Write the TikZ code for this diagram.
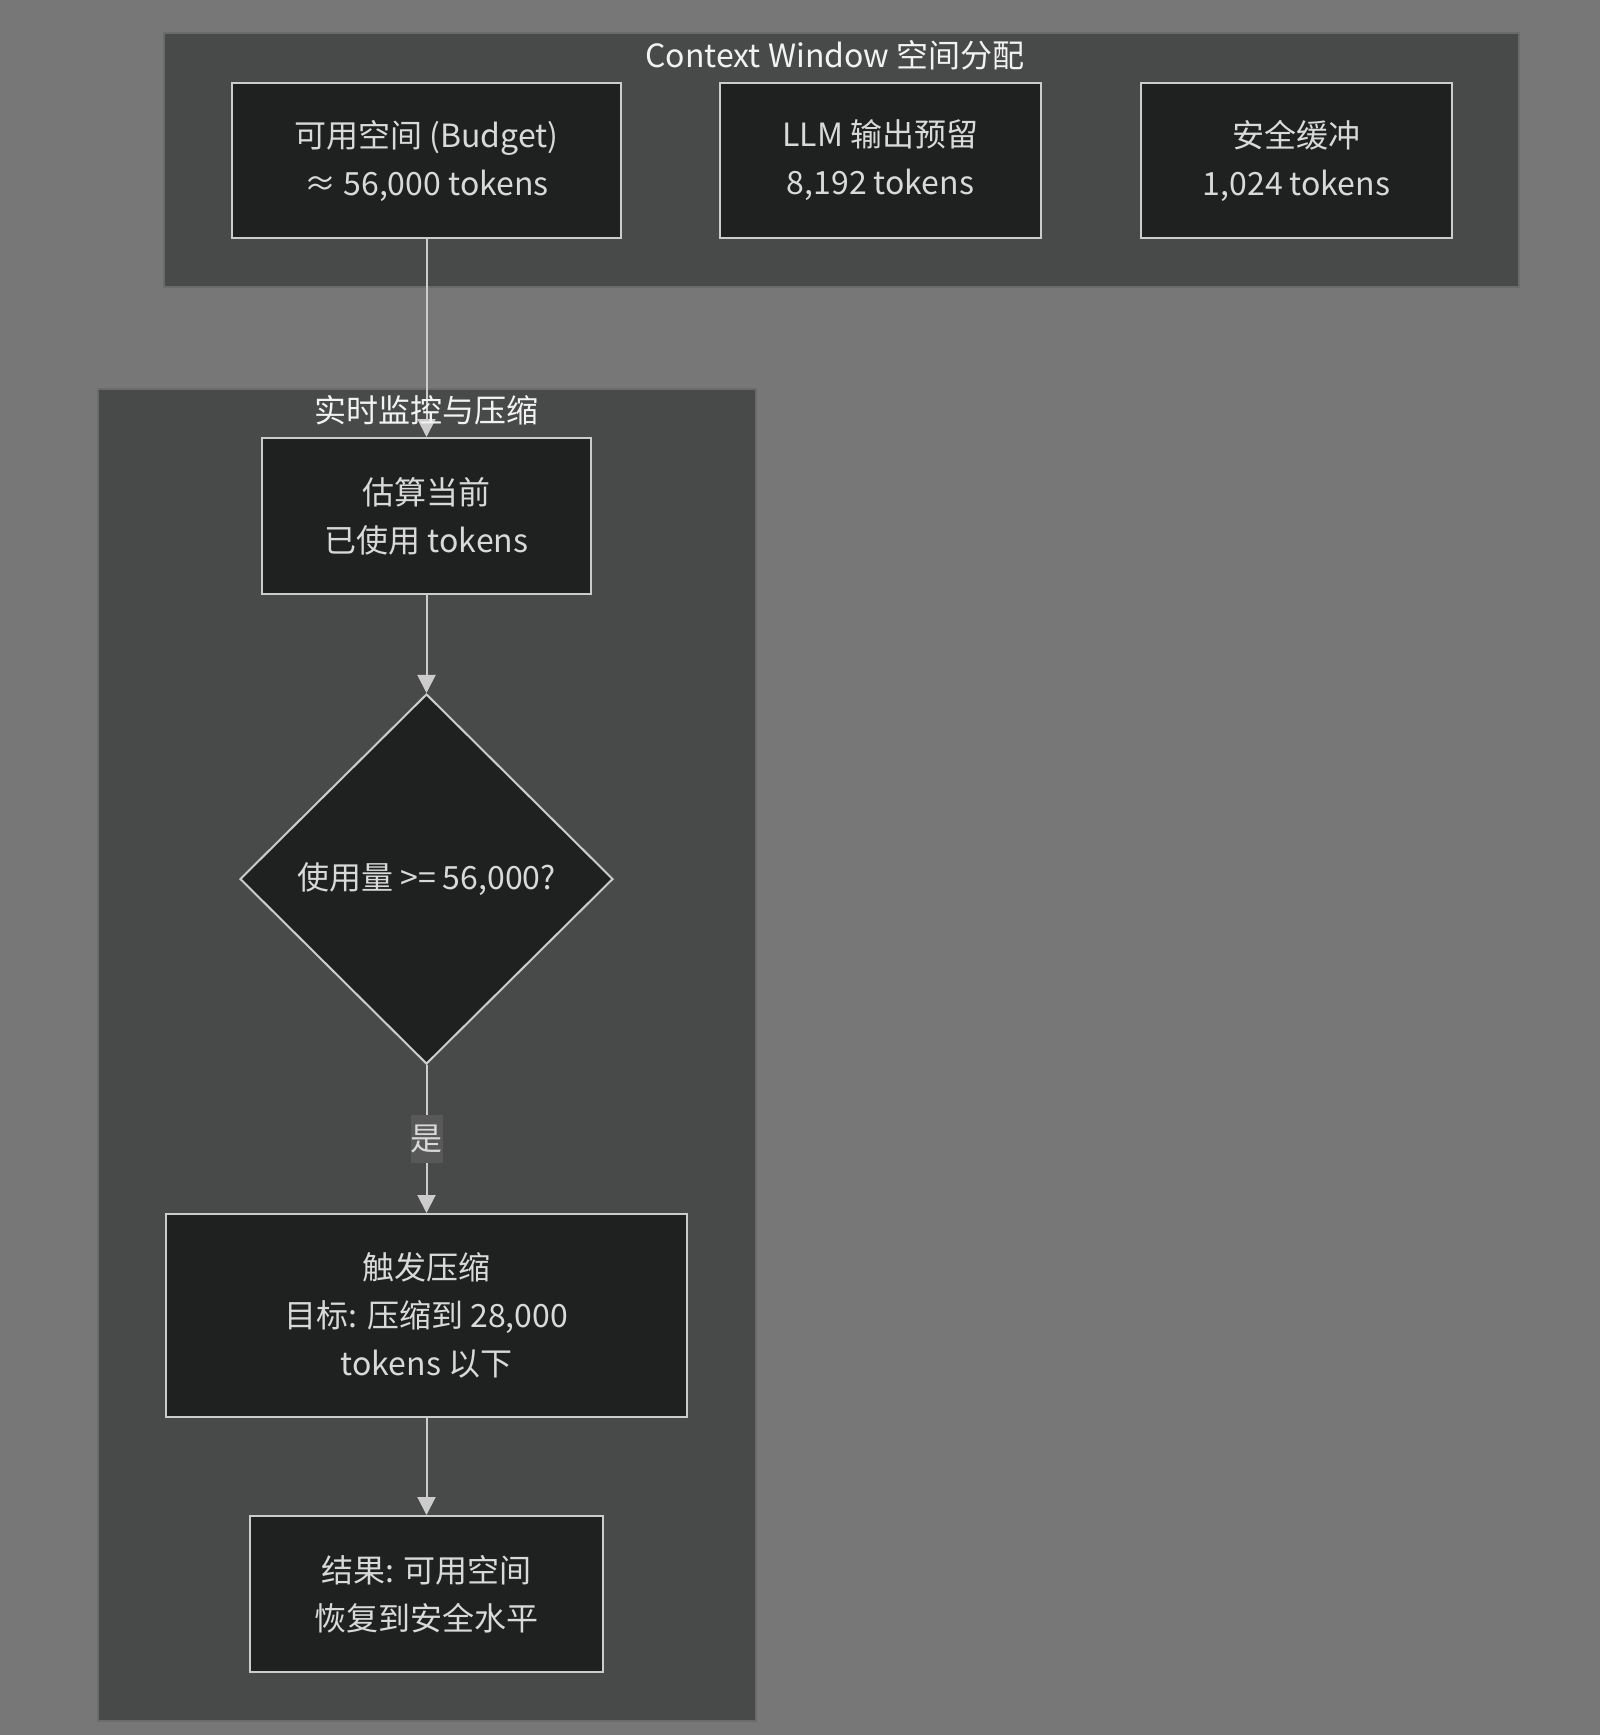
\documentclass[tikz,border=0pt]{standalone}
\usepackage{fontspec}
\setmainfont{Noto Sans CJK SC}
\usetikzlibrary{shapes.geometric,arrows.meta}

\definecolor{canvas}{HTML}{777777}
\definecolor{groupfill}{HTML}{484949}
\definecolor{groupline}{HTML}{6B6B6B}
\definecolor{nodefill}{HTML}{1F2020}
\definecolor{nodeline}{HTML}{CCCCCC}
\definecolor{nodetext}{HTML}{D9D9D9}
\definecolor{labelfill}{HTML}{585858}

\begin{document}
\begin{tikzpicture}[x=0.5pt,y=-0.5pt,
  every node/.style={font=\fontsize{16}{24}\selectfont},
  group/.style={draw=groupline,fill=groupfill,line width=0.8pt},
  grouptitle/.style={text=white!95!black},
  box/.style={draw=nodeline,fill=nodefill,text=nodetext,line width=1pt,align=center,inner sep=0pt},
  decision/.style={diamond,draw=nodeline,fill=nodefill,text=nodetext,line width=1pt,inner sep=0pt,aspect=1},
  flow/.style={draw=nodeline,line width=1pt,-{Triangle[length=9pt,width=9pt]}}]

\useasboundingbox[fill=canvas] (0,0) rectangle (1600,1735);

% groups
\draw[group] (164,33) rectangle (1519,287);
\draw[group] (98,389) rectangle (756,1721);

% Context Window
\node[box,minimum width=194.5pt,minimum height=77.5pt] (budget) at (426.5,160.5) {可用空间 (Budget)\\≈ 56,000 tokens};
\node[box,minimum width=160.5pt,minimum height=77.5pt] (reserve) at (880.5,160.5) {LLM 输出预留\\8,192 tokens};
\node[box,minimum width=155.5pt,minimum height=77.5pt] (buffer) at (1296.5,160.5) {安全缓冲\\1,024 tokens};

% monitor
\node[box,minimum width=164.5pt,minimum height=78pt] (estimate) at (426.5,516) {估算当前\\已使用 tokens};
\node[decision,minimum width=186.5pt,minimum height=185pt] (check) at (426.5,879) {使用量 >= 56,000?};
\node[box,minimum width=260.5pt,minimum height=101.5pt] (compress) at (426.5,1315.5) {触发压缩\\目标: 压缩到 28,000\\tokens 以下};
\node[box,minimum width=176.5pt,minimum height=78pt] (result) at (426.5,1594) {结果: 可用空间\\恢复到安全水平};

\draw[flow] (budget) -- (estimate);
\draw[flow] (estimate) -- (check);
\draw[flow] (check) -- node[fill=labelfill,text=nodetext,inner sep=0pt,minimum width=16pt,minimum height=24pt] (yes) {是} (compress);
\draw[flow] (compress) -- (result);

\node[grouptitle] (wintitle) at (835,55) {Context Window 空间分配};
\node[grouptitle] (montitle) at (426,410.5) {实时监控与压缩};

\end{tikzpicture}
\end{document}
